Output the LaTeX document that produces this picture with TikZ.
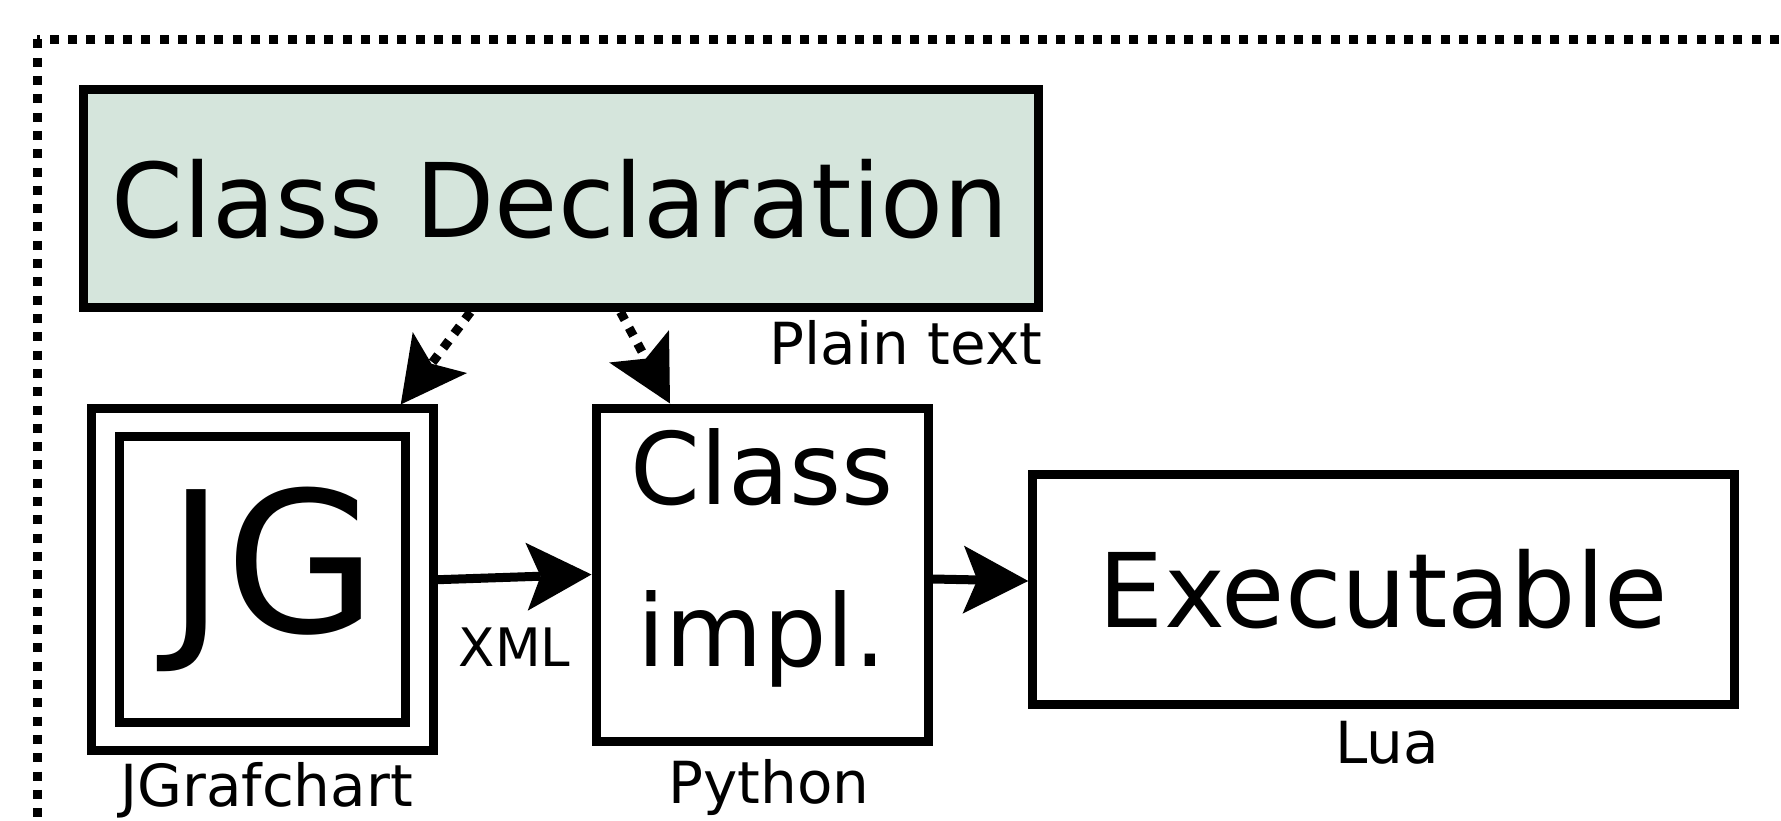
\documentclass[tikz,border=0pt]{standalone}
\usepackage{fontspec}
\setmainfont{DejaVu Sans}
\usetikzlibrary{arrows.meta,positioning}
\definecolor{declfill}{RGB}{213,229,220}
\tikzset{
  box/.style={draw, line width=9pt, inner sep=0pt, outer sep=4.5pt},
  lbl/.style={inner sep=0pt, font=\fontsize{58}{70}\selectfont},
  big/.style={font=\fontsize{103}{124}\selectfont},
  arr/.style={line width=9pt, -{Stealth[length=65pt, width=68pt, inset=14pt, line width=0pt]}},
  dotarr/.style={arr, dash pattern=on 9pt off 9pt},
}
\begin{document}
\begin{tikzpicture}[x=1pt, y=-1pt]
    \useasboundingbox (0,0) rectangle (1781,821);
    \clip (0,0) rectangle (1781,821);
    % dotted frame, open to the right and bottom
    \draw[line width=9pt, dash pattern=on 9pt off 9.3pt] (37,39.5) rectangle (1850,900);
    \node[box, big, fill=declfill, minimum width=955pt, minimum height=217.5pt] (decl) at (560.5,198.75) {Class Declaration};
    \node[lbl, below=8pt of decl.south east, anchor=north east] (plain) {Plain text};
    \node[draw, double, double distance=19pt, line width=9pt, inner sep=0pt, outer sep=18.5pt,
          minimum size=313.5pt, font=\fontsize{196}{236}\selectfont] (jg) at (262.5,579.7) {\hspace*{20pt}JG};
    \node[lbl, below=7pt of jg, xshift=4pt] (jgname) {JGrafchart};
    \node[box, align=center, font=\fontsize{100}{162}\selectfont, text depth=54pt,
          minimum width=332pt, minimum height=333pt] (impl) at (762,574.5) {Class\\impl.};
    \node[lbl, below=14pt of impl, xshift=7pt] (python) {Python};
    \node[box, big, minimum width=701.3pt, minimum height=230pt] (exec) at (1383.4,589) {Executable};
    \node[lbl, below=13pt of exec, xshift=4pt] (lua) {Lua};
    % connectors
    \draw[dotarr] ([xshift=-90pt]decl.south) -- ([xshift=-37pt]jg.north east);
    \draw[dotarr] ([xshift=60pt]decl.south) -- ([xshift=-92pt]impl.north);
    \draw[arr] (jg.east) -- (impl.west) node[midway, below=46pt, inner sep=0pt, font=\fontsize{53}{63}\selectfont] (xml) {XML};
    \draw[arr] ([yshift=-4.5pt]impl.east) -- ([yshift=8pt]exec.west);
\end{tikzpicture}
\end{document}
